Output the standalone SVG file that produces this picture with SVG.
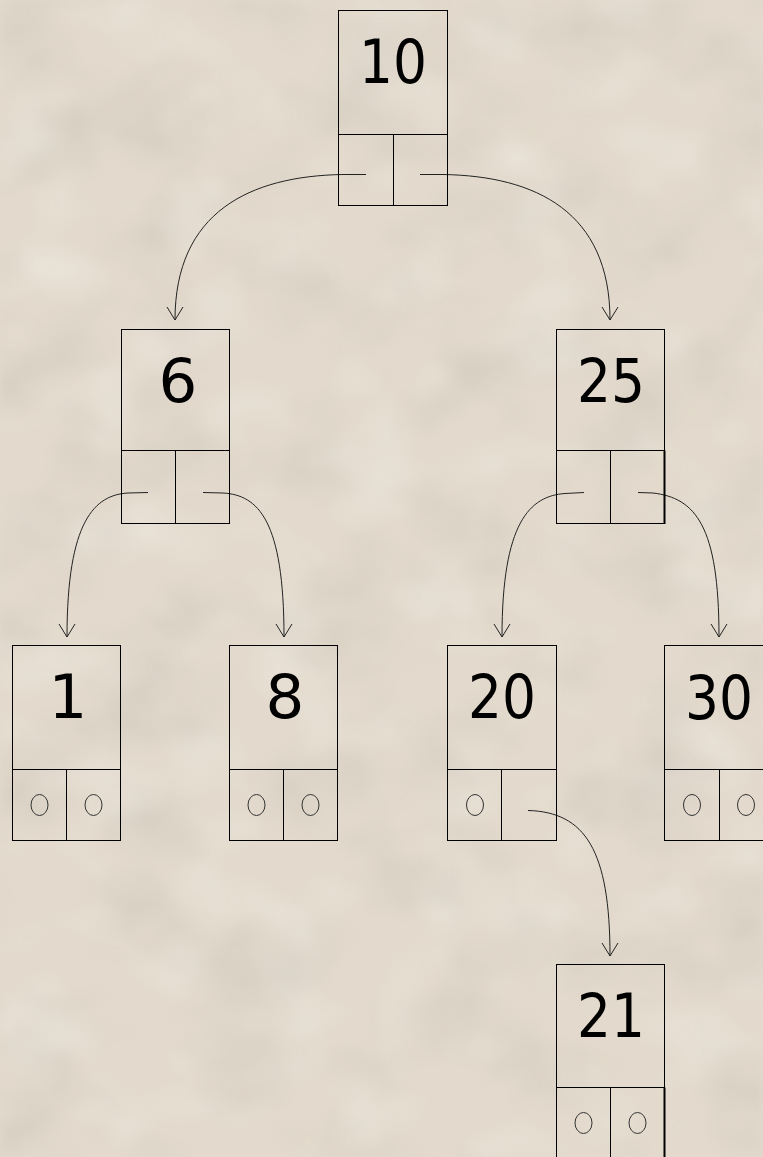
<svg xmlns="http://www.w3.org/2000/svg" width="763" height="1157" viewBox="0 0 763 1157">
<defs>
<style>
.box{fill:none;stroke:#000;stroke-width:1}
.thick{stroke:#000;stroke-width:2}
.num{font-family:"DejaVu Sans","Liberation Sans",sans-serif;font-size:61px;fill:#000;text-anchor:middle}
.nul{fill:none;stroke:#333;stroke-width:1}
.edge{fill:none;stroke:#222;stroke-width:1}
</style>
<marker id="arr" markerUnits="userSpaceOnUse" markerWidth="30" markerHeight="30" refX="0" refY="0" viewBox="-15 -15 30 30" orient="auto" overflow="visible">
<path d="M-13,-8 L0,0 L-13,8" fill="none" stroke="#222" stroke-width="1"/>
</marker>
<filter id="tex" x="0" y="0" width="100%" height="100%">
<feTurbulence type="fractalNoise" baseFrequency="0.01 0.012" numOctaves="3" seed="11" result="n"/>
<feColorMatrix in="n" type="matrix" values="0 0 0 0 0.45  0 0 0 0 0.41  0 0 0 0 0.36  1.1 0 0 0 -0.5"/>
<feGaussianBlur stdDeviation="3"/>
</filter>
<filter id="tex2" x="0" y="0" width="100%" height="100%">
<feTurbulence type="fractalNoise" baseFrequency="0.012 0.016" numOctaves="2" seed="4" result="n"/>
<feColorMatrix in="n" type="matrix" values="0 0 0 0 0.96  0 0 0 0 0.94  0 0 0 0 0.9  0 1.0 0 0 -0.5"/>
<feGaussianBlur stdDeviation="4"/>
</filter>
</defs>
<rect width="763" height="1157" fill="#e3dacd"/>
<rect width="763" height="1157" filter="url(#tex2)" opacity="0.7"/>
<rect width="763" height="1157" filter="url(#tex)" opacity="0.5"/>

<g id="connectors">
<path class="edge" d="M366,174.5 L343,174.5 C250,176 175,212 175,320" marker-end="url(#arr)"/>
<path class="edge" d="M420,174.5 L443,174.5 C536,176 610,212 610,320" marker-end="url(#arr)"/>
<path class="edge" d="M148,492.5 L128,493 C95,495 67,520 67,637" marker-end="url(#arr)"/>
<path class="edge" d="M203,492.5 L223,493 C258,495 284,520 284,637" marker-end="url(#arr)"/>
<path class="edge" d="M584,492.5 L565,493.5 C530,496 502,522 502,637" marker-end="url(#arr)"/>
<path class="edge" d="M638,492.5 L653,493 C695,498 719,525 719,637" marker-end="url(#arr)"/>
<path class="edge" d="M528,810.5 C585,812 610,850 610,956" marker-end="url(#arr)"/>
</g>

<g id="node-10">
<rect class="box" x="338.5" y="10.5" width="109" height="195"/>
<line class="box" x1="338.5" y1="134.5" x2="447.5" y2="134.5"/>
<line class="box" x1="393.5" y1="134.5" x2="393.5" y2="205.5"/>
<text class="num" x="393" y="83" textLength="68" lengthAdjust="spacingAndGlyphs">10</text>
</g>

<g id="node-6">
<rect class="box" x="121.5" y="329.5" width="108" height="194"/>
<line class="box" x1="121.5" y1="450.5" x2="229.5" y2="450.5"/>
<line class="box" x1="175.5" y1="450.5" x2="175.5" y2="523.5"/>
<text class="num" x="178" y="402">6</text>
</g>

<g id="node-25">
<rect class="box" x="556.5" y="329.5" width="108" height="194"/>
<line class="box" x1="556.5" y1="450.5" x2="664.5" y2="450.5"/>
<line class="box" x1="610.5" y1="450.5" x2="610.5" y2="523.5"/>
<line class="thick" x1="664.5" y1="450.5" x2="664.5" y2="524"/>
<text class="num" x="611" y="402" textLength="68" lengthAdjust="spacingAndGlyphs">25</text>
</g>

<g id="node-1">
<rect class="box" x="12.5" y="645.5" width="108" height="195"/>
<line class="box" x1="12.5" y1="769.5" x2="120.5" y2="769.5"/>
<line class="box" x1="66.5" y1="769.5" x2="66.5" y2="840.5"/>
<text class="num" x="68" y="718">1</text>
<ellipse class="nul" cx="39.5" cy="805" rx="8.5" ry="10.5"/>
<ellipse class="nul" cx="93.5" cy="805" rx="8.5" ry="10.5"/>
</g>

<g id="node-8">
<rect class="box" x="229.5" y="645.5" width="108" height="195"/>
<line class="box" x1="229.5" y1="769.5" x2="337.5" y2="769.5"/>
<line class="box" x1="283.5" y1="769.5" x2="283.5" y2="840.5"/>
<text class="num" x="285" y="718">8</text>
<ellipse class="nul" cx="256.5" cy="805" rx="8.5" ry="10.5"/>
<ellipse class="nul" cx="310.5" cy="805" rx="8.5" ry="10.5"/>
</g>

<g id="node-20">
<rect class="box" x="447.5" y="645.5" width="109" height="195"/>
<line class="box" x1="447.5" y1="769.5" x2="556.5" y2="769.5"/>
<line class="box" x1="501.5" y1="769.5" x2="501.5" y2="840.5"/>
<text class="num" x="502" y="718" textLength="68" lengthAdjust="spacingAndGlyphs">20</text>
<ellipse class="nul" cx="475" cy="805" rx="8.5" ry="10.5"/>
</g>

<g id="node-30">
<rect class="box" x="664.5" y="645.5" width="109" height="195"/>
<line class="box" x1="664.5" y1="769.5" x2="773.5" y2="769.5"/>
<line class="box" x1="719.5" y1="769.5" x2="719.5" y2="840.5"/>
<text class="num" x="719" y="719" textLength="68" lengthAdjust="spacingAndGlyphs">30</text>
<ellipse class="nul" cx="692" cy="805" rx="8.5" ry="10.5"/>
<ellipse class="nul" cx="746" cy="805" rx="8.5" ry="10.5"/>
</g>

<g id="node-21">
<rect class="box" x="556.5" y="964.5" width="108" height="200"/>
<line class="box" x1="556.5" y1="1087.5" x2="664.5" y2="1087.5"/>
<line class="box" x1="610.5" y1="1087.5" x2="610.5" y2="1160"/>
<line class="thick" x1="664.5" y1="1087.5" x2="664.5" y2="1160"/>
<text class="num" x="611" y="1037" textLength="68" lengthAdjust="spacingAndGlyphs">21</text>
<ellipse class="nul" cx="583.5" cy="1123" rx="8.5" ry="10.5"/>
<ellipse class="nul" cx="637.5" cy="1123" rx="8.5" ry="10.5"/>
</g>
</svg>
